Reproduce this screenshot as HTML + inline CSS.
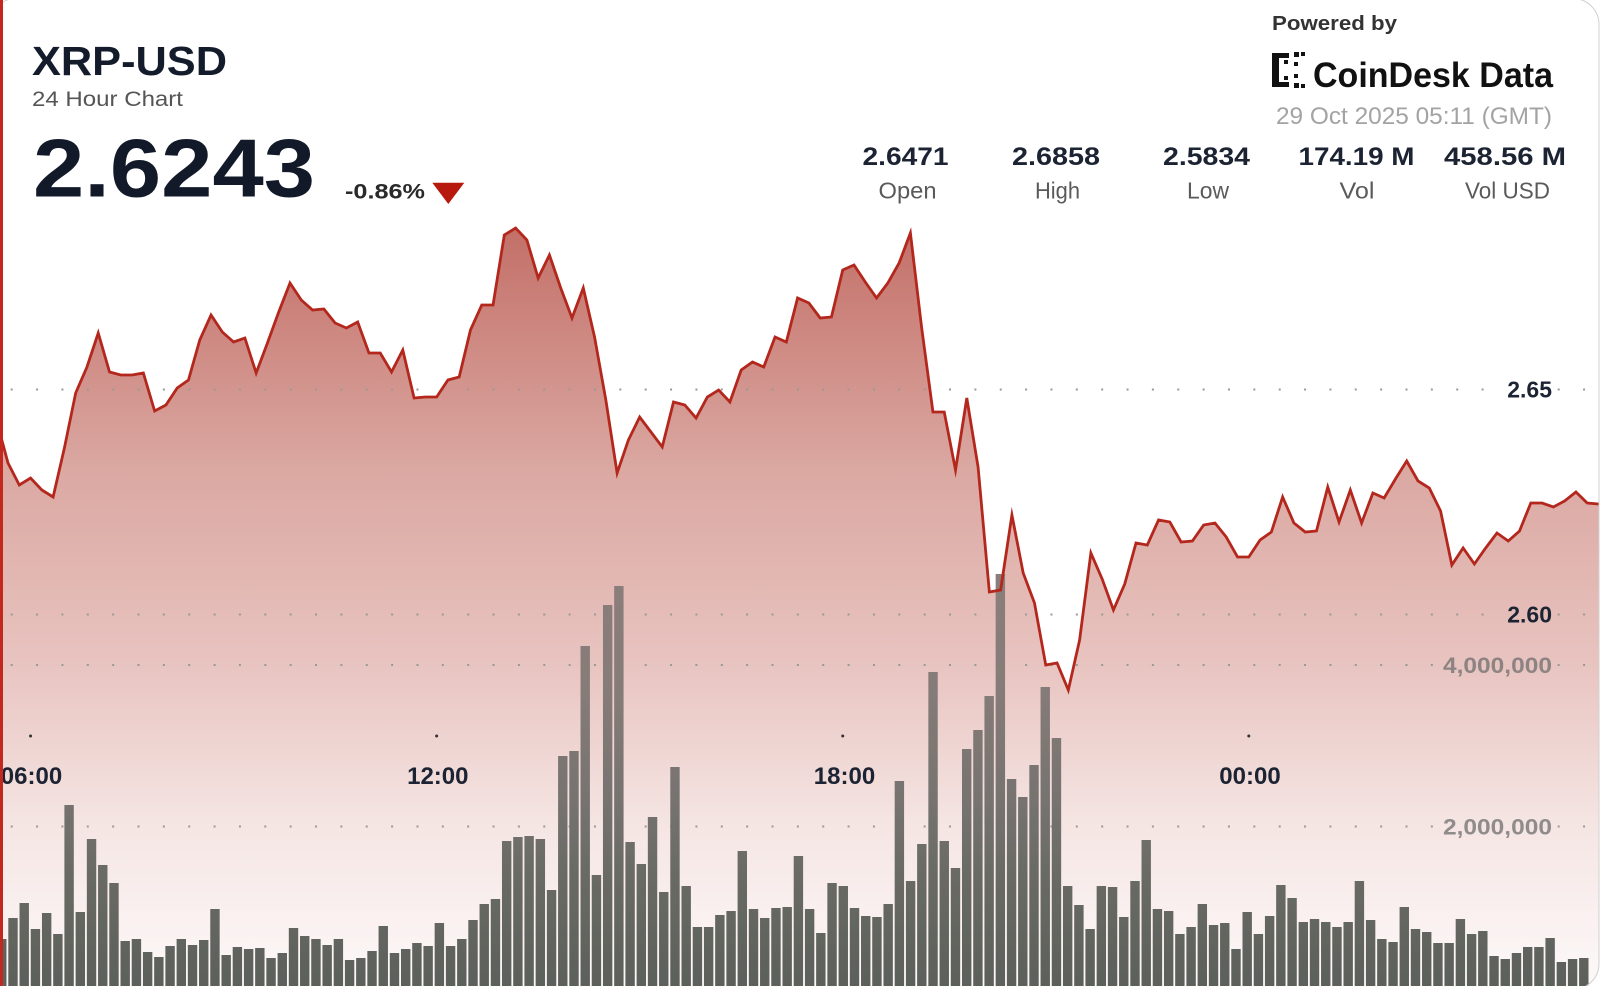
<!DOCTYPE html>
<html>
<head>
<meta charset="utf-8">
<style>
  html, body { margin: 0; padding: 0; background: #ffffff; }
  body { width: 1600px; height: 986px; overflow: hidden; }
  svg { display: block; }
  text { font-family: "Liberation Sans", Arial, sans-serif; }
</style>
</head>
<body>
<svg width="1600" height="986" viewBox="0 0 1600 986" xmlns="http://www.w3.org/2000/svg">
  <defs>
    <clipPath id="card">
      <rect x="-10" y="-1.5" width="1609.5" height="991.5" rx="26" ry="26"/>
    </clipPath>
    <linearGradient id="areaGrad" gradientUnits="userSpaceOnUse" x1="0" y1="222" x2="0" y2="990">
      <stop offset="0" stop-color="rgb(194,110,102)"/>
      <stop offset="0.323" stop-color="rgb(219,168,162)"/>
      <stop offset="0.57" stop-color="rgb(232,195,191)"/>
      <stop offset="0.79" stop-color="rgb(245,230,228)"/>
      <stop offset="1" stop-color="rgb(253,249,249)"/>
    </linearGradient>
    <linearGradient id="barGrad" gradientUnits="userSpaceOnUse" x1="0" y1="570" x2="0" y2="990">
      <stop offset="0" stop-color="#8b7e7a"/>
      <stop offset="0.3" stop-color="#857b78"/>
      <stop offset="0.55" stop-color="#767370"/>
      <stop offset="0.75" stop-color="#686963"/>
      <stop offset="1" stop-color="#5c605a"/>
    </linearGradient>
  </defs>

  <g clip-path="url(#card)">
    <rect x="0" y="0" width="1600" height="986" fill="#ffffff"/>

    <!-- price area fill -->
    <path fill="url(#areaGrad)" d="M-3.28,421 L8,463 19.28,485 30.56,478 41.84,490 53.12,497 64.4,448 75.68,393 86.96,367 98.24,333 109.52,372 120.8,375 132.08,375 143.36,373 154.64,411 165.92,405 177.2,388 188.48,380 199.76,340 211.04,315 222.32,332 233.6,342 244.88,338 256.16,373 267.44,343 278.72,312 290,283 301.28,300 312.56,310 323.84,309 335.12,323 346.4,328 357.68,322 368.96,353 380.24,353 391.52,372 402.8,350 414.08,398 425.36,397 436.64,397 447.92,380 459.2,377 470.48,330 481.76,305 493.04,305 504.32,235 515.6,228 526.88,240 538.16,278 549.44,255 560.72,288 572,318 583.28,288 594.56,337 605.84,400 617.12,473 628.4,440 639.68,417 650.96,432 662.24,447 673.52,402 684.8,405 696.08,418 707.36,397 718.64,390 729.92,402 741.2,370 752.48,362 763.76,367 775.04,337 786.32,342 797.6,298 808.88,303 820.16,318 831.44,317 842.72,270 854,265 865.28,282 876.56,298 887.84,283 899.12,263 910.4,233 921.68,328 932.96,412 944.24,412 955.52,470 966.8,398 978.08,467 989.36,592 1000.64,590 1011.92,515 1023.2,573 1034.48,603 1045.76,665 1057.04,663 1068.32,690 1079.6,640 1090.88,553 1102.16,579 1113.44,610 1124.72,584 1136,543 1147.28,545 1158.56,520 1169.84,522 1181.12,542 1192.4,541 1203.68,525 1214.96,523 1226.24,537 1237.52,557 1248.8,557 1260.08,540 1271.36,532 1282.64,497 1293.92,523 1305.2,532 1316.48,531 1327.76,487 1339.04,522 1350.32,490 1361.6,523 1372.88,493 1384.16,498 1395.44,479 1406.72,461 1418,481 1429.28,488 1440.56,511 1451.84,565 1463.12,548 1474.4,564 1485.68,548 1496.96,533 1508.24,541 1519.52,531 1530.8,503 1542.08,503 1553.36,507 1564.64,501 1575.92,492 1587.2,503 1598.48,504 1609.76,504 L1609.76,990 L-3.28,990 Z"/>

    <!-- dotted gridlines -->
    <g stroke="#999999" stroke-width="2" stroke-dasharray="2 23.36" fill="none">
      <line x1="10.7" y1="389.5" x2="1490" y2="389.5"/>
      <line x1="1557.7" y1="389.5" x2="1600" y2="389.5"/>
      <line x1="10.7" y1="614.5" x2="1490" y2="614.5"/>
      <line x1="1557.7" y1="614.5" x2="1600" y2="614.5"/>
      <line x1="10.7" y1="665" x2="1440" y2="665"/>
      <line x1="1557.7" y1="665" x2="1600" y2="665"/>
      <line x1="10.7" y1="826.5" x2="1440" y2="826.5"/>
      <line x1="1557.7" y1="826.5" x2="1600" y2="826.5"/>
    </g>

    <!-- volume bars -->
    <path fill="url(#barGrad)" d="M-2.92 939h9.4V990h-9.4z M8.3 918h9.4V990h-9.4z M19.52 903h9.4V990h-9.4z M30.74 929h9.4V990h-9.4z M41.96 913h9.4V990h-9.4z M53.18 934h9.4V990h-9.4z M64.4 805h9.4V990h-9.4z M75.62 912h9.4V990h-9.4z M86.84 839h9.4V990h-9.4z M98.06 865h9.4V990h-9.4z M109.28 883h9.4V990h-9.4z M120.5 941h9.4V990h-9.4z M131.72 939h9.4V990h-9.4z M142.94 952h9.4V990h-9.4z M154.16 957h9.4V990h-9.4z M165.38 946h9.4V990h-9.4z M176.6 939h9.4V990h-9.4z M187.82 945h9.4V990h-9.4z M199.04 940h9.4V990h-9.4z M210.26 909h9.4V990h-9.4z M221.48 955h9.4V990h-9.4z M232.7 947h9.4V990h-9.4z M243.92 949h9.4V990h-9.4z M255.14 948h9.4V990h-9.4z M266.36 958h9.4V990h-9.4z M277.58 953h9.4V990h-9.4z M288.8 928h9.4V990h-9.4z M300.02 936h9.4V990h-9.4z M311.24 939h9.4V990h-9.4z M322.46 945h9.4V990h-9.4z M333.68 939h9.4V990h-9.4z M344.9 960h9.4V990h-9.4z M356.12 958h9.4V990h-9.4z M367.34 951h9.4V990h-9.4z M378.56 926h9.4V990h-9.4z M389.78 953h9.4V990h-9.4z M401 949h9.4V990h-9.4z M412.22 943h9.4V990h-9.4z M423.44 946h9.4V990h-9.4z M434.66 923h9.4V990h-9.4z M445.88 946h9.4V990h-9.4z M457.1 939h9.4V990h-9.4z M468.32 920h9.4V990h-9.4z M479.54 904h9.4V990h-9.4z M490.76 899h9.4V990h-9.4z M501.98 841h9.4V990h-9.4z M513.2 837h9.4V990h-9.4z M524.42 836h9.4V990h-9.4z M535.64 839h9.4V990h-9.4z M546.86 890h9.4V990h-9.4z M558.08 756h9.4V990h-9.4z M569.3 751h9.4V990h-9.4z M580.52 646h9.4V990h-9.4z M591.74 875h9.4V990h-9.4z M602.96 605h9.4V990h-9.4z M614.18 586h9.4V990h-9.4z M625.4 842h9.4V990h-9.4z M636.62 864h9.4V990h-9.4z M647.84 817h9.4V990h-9.4z M659.06 892h9.4V990h-9.4z M670.28 767h9.4V990h-9.4z M681.5 886h9.4V990h-9.4z M692.72 927h9.4V990h-9.4z M703.94 927h9.4V990h-9.4z M715.16 915h9.4V990h-9.4z M726.38 911h9.4V990h-9.4z M737.6 851h9.4V990h-9.4z M748.82 909h9.4V990h-9.4z M760.04 918h9.4V990h-9.4z M771.26 908h9.4V990h-9.4z M782.48 907h9.4V990h-9.4z M793.7 856h9.4V990h-9.4z M804.92 909h9.4V990h-9.4z M816.14 933h9.4V990h-9.4z M827.36 883h9.4V990h-9.4z M838.58 886h9.4V990h-9.4z M849.8 908h9.4V990h-9.4z M861.02 916h9.4V990h-9.4z M872.24 917h9.4V990h-9.4z M883.46 904h9.4V990h-9.4z M894.68 781h9.4V990h-9.4z M905.9 881h9.4V990h-9.4z M917.12 844h9.4V990h-9.4z M928.34 672h9.4V990h-9.4z M939.56 841h9.4V990h-9.4z M950.78 868h9.4V990h-9.4z M962 749h9.4V990h-9.4z M973.22 730h9.4V990h-9.4z M984.44 696h9.4V990h-9.4z M995.66 574h9.4V990h-9.4z M1006.88 779h9.4V990h-9.4z M1018.1 797h9.4V990h-9.4z M1029.32 765h9.4V990h-9.4z M1040.54 687h9.4V990h-9.4z M1051.76 738h9.4V990h-9.4z M1062.98 886h9.4V990h-9.4z M1074.2 905h9.4V990h-9.4z M1085.42 929h9.4V990h-9.4z M1096.64 886h9.4V990h-9.4z M1107.86 887h9.4V990h-9.4z M1119.08 917h9.4V990h-9.4z M1130.3 881h9.4V990h-9.4z M1141.52 840h9.4V990h-9.4z M1152.74 909h9.4V990h-9.4z M1163.96 911h9.4V990h-9.4z M1175.18 934h9.4V990h-9.4z M1186.4 927h9.4V990h-9.4z M1197.62 904h9.4V990h-9.4z M1208.84 925h9.4V990h-9.4z M1220.06 923h9.4V990h-9.4z M1231.28 949h9.4V990h-9.4z M1242.5 912h9.4V990h-9.4z M1253.72 934h9.4V990h-9.4z M1264.94 916h9.4V990h-9.4z M1276.16 885h9.4V990h-9.4z M1287.38 898h9.4V990h-9.4z M1298.6 922h9.4V990h-9.4z M1309.82 919h9.4V990h-9.4z M1321.04 922h9.4V990h-9.4z M1332.26 927h9.4V990h-9.4z M1343.48 922h9.4V990h-9.4z M1354.7 881h9.4V990h-9.4z M1365.92 920h9.4V990h-9.4z M1377.14 939h9.4V990h-9.4z M1388.36 942h9.4V990h-9.4z M1399.58 907h9.4V990h-9.4z M1410.8 929h9.4V990h-9.4z M1422.02 932h9.4V990h-9.4z M1433.24 943h9.4V990h-9.4z M1444.46 943h9.4V990h-9.4z M1455.68 919h9.4V990h-9.4z M1466.9 934h9.4V990h-9.4z M1478.12 931h9.4V990h-9.4z M1489.34 956h9.4V990h-9.4z M1500.56 959h9.4V990h-9.4z M1511.78 953h9.4V990h-9.4z M1523 947h9.4V990h-9.4z M1534.22 947h9.4V990h-9.4z M1545.44 938h9.4V990h-9.4z M1556.66 962h9.4V990h-9.4z M1567.88 959h9.4V990h-9.4z M1579.1 958h9.4V990h-9.4z"/>

    <!-- price line -->
    <polyline fill="none" stroke="#b3271d" stroke-width="2.8" stroke-linejoin="miter" stroke-miterlimit="6" points="-3.28,421 8,463 19.28,485 30.56,478 41.84,490 53.12,497 64.4,448 75.68,393 86.96,367 98.24,333 109.52,372 120.8,375 132.08,375 143.36,373 154.64,411 165.92,405 177.2,388 188.48,380 199.76,340 211.04,315 222.32,332 233.6,342 244.88,338 256.16,373 267.44,343 278.72,312 290,283 301.28,300 312.56,310 323.84,309 335.12,323 346.4,328 357.68,322 368.96,353 380.24,353 391.52,372 402.8,350 414.08,398 425.36,397 436.64,397 447.92,380 459.2,377 470.48,330 481.76,305 493.04,305 504.32,235 515.6,228 526.88,240 538.16,278 549.44,255 560.72,288 572,318 583.28,288 594.56,337 605.84,400 617.12,473 628.4,440 639.68,417 650.96,432 662.24,447 673.52,402 684.8,405 696.08,418 707.36,397 718.64,390 729.92,402 741.2,370 752.48,362 763.76,367 775.04,337 786.32,342 797.6,298 808.88,303 820.16,318 831.44,317 842.72,270 854,265 865.28,282 876.56,298 887.84,283 899.12,263 910.4,233 921.68,328 932.96,412 944.24,412 955.52,470 966.8,398 978.08,467 989.36,592 1000.64,590 1011.92,515 1023.2,573 1034.48,603 1045.76,665 1057.04,663 1068.32,690 1079.6,640 1090.88,553 1102.16,579 1113.44,610 1124.72,584 1136,543 1147.28,545 1158.56,520 1169.84,522 1181.12,542 1192.4,541 1203.68,525 1214.96,523 1226.24,537 1237.52,557 1248.8,557 1260.08,540 1271.36,532 1282.64,497 1293.92,523 1305.2,532 1316.48,531 1327.76,487 1339.04,522 1350.32,490 1361.6,523 1372.88,493 1384.16,498 1395.44,479 1406.72,461 1418,481 1429.28,488 1440.56,511 1451.84,565 1463.12,548 1474.4,564 1485.68,548 1496.96,533 1508.24,541 1519.52,531 1530.8,503 1542.08,503 1553.36,507 1564.64,501 1575.92,492 1587.2,503 1598.48,504 1609.76,504"/>

    <!-- axis labels -->
    <text x="1552" y="397.5" font-size="23" font-weight="bold" fill="#1c2333" text-anchor="end">2.65</text>
    <text x="1552" y="622.5" font-size="23" font-weight="bold" fill="#1c2333" text-anchor="end">2.60</text>
    <text x="1552" y="673" font-size="22" font-weight="bold" fill="#6e6e6e" fill-opacity="0.75" text-anchor="end" textLength="109" lengthAdjust="spacingAndGlyphs">4,000,000</text>
    <text x="1552" y="834.5" font-size="22" font-weight="bold" fill="#6e6e6e" fill-opacity="0.75" text-anchor="end" textLength="109" lengthAdjust="spacingAndGlyphs">2,000,000</text>

    <!-- time ticks and labels -->
    <g fill="#333333">
      <circle cx="30.56" cy="736" r="1.5"/>
      <circle cx="436.64" cy="736" r="1.5"/>
      <circle cx="842.72" cy="736" r="1.5"/>
      <circle cx="1248.8" cy="736" r="1.5"/>
    </g>
    <g font-size="24" font-weight="bold" fill="#1c2333" text-anchor="middle">
      <text x="31.5" y="784">06:00</text>
      <text x="437.8" y="784">12:00</text>
      <text x="844.5" y="784">18:00</text>
      <text x="1250" y="784">00:00</text>
    </g>

    <!-- header left -->
    <text x="32" y="75" font-size="41" font-weight="bold" fill="#141c2b" textLength="195" lengthAdjust="spacingAndGlyphs">XRP-USD</text>
    <text x="32" y="106" font-size="21" fill="#555555" textLength="151" lengthAdjust="spacingAndGlyphs">24 Hour Chart</text>
    <text x="33" y="196.7" font-size="83" font-weight="bold" fill="#121a2a" textLength="282" lengthAdjust="spacingAndGlyphs">2.6243</text>
    <text x="345" y="198.5" font-size="21" font-weight="bold" fill="#2a2a2a" textLength="80" lengthAdjust="spacingAndGlyphs">-0.86%</text>
    <polygon points="432.3,182.7 464.3,182.7 448.3,204" fill="#b8190f"/>

    <!-- header right -->
    <text x="1272" y="30" font-size="20" font-weight="bold" fill="#333333" textLength="125" lengthAdjust="spacingAndGlyphs">Powered by</text>
    <g fill="#111111">
      <rect x="1272" y="53" width="7" height="34"/>
      <rect x="1272" y="53" width="17" height="5"/>
      <rect x="1272" y="82" width="17" height="5"/>
      <rect x="1284" y="60" width="4" height="4"/>
      <rect x="1284" y="76" width="4" height="4"/>
      <rect x="1294" y="52" width="5" height="5"/>
      <rect x="1294" y="62" width="4" height="4"/>
      <rect x="1294" y="74" width="4" height="4"/>
      <rect x="1294" y="83" width="5" height="5"/>
      <rect x="1301" y="52" width="4" height="4"/>
      <rect x="1301" y="84" width="4" height="4"/>
    </g>
    <text x="1313" y="87" font-size="35" font-weight="bold" fill="#111111" textLength="240" lengthAdjust="spacingAndGlyphs">CoinDesk Data</text>
    <text x="1276" y="124" font-size="24" fill="#a3a3a3" textLength="276" lengthAdjust="spacingAndGlyphs">29 Oct 2025 05:11 (GMT)</text>

    <!-- stats -->
    <g font-size="25" font-weight="bold" fill="#1c2333" text-anchor="middle">
      <text x="905.5" y="165" textLength="86" lengthAdjust="spacingAndGlyphs">2.6471</text>
      <text x="1056" y="165" textLength="88" lengthAdjust="spacingAndGlyphs">2.6858</text>
      <text x="1206.5" y="165" textLength="87" lengthAdjust="spacingAndGlyphs">2.5834</text>
      <text x="1356.5" y="165" textLength="116" lengthAdjust="spacingAndGlyphs">174.19 M</text>
      <text x="1505" y="165" textLength="122" lengthAdjust="spacingAndGlyphs">458.56 M</text>
    </g>
    <g font-size="23" fill="#5a5a5a" text-anchor="middle">
      <text x="907.5" y="198.5" textLength="58" lengthAdjust="spacingAndGlyphs">Open</text>
      <text x="1057.5" y="198.5" textLength="45" lengthAdjust="spacingAndGlyphs">High</text>
      <text x="1208" y="198.5" textLength="42" lengthAdjust="spacingAndGlyphs">Low</text>
      <text x="1357" y="198.5" textLength="35" lengthAdjust="spacingAndGlyphs">Vol</text>
      <text x="1507.5" y="198.5" textLength="85" lengthAdjust="spacingAndGlyphs">Vol USD</text>
    </g>
  </g>

  <!-- card border and red left accent -->
  <rect x="-10" y="-1.5" width="1609" height="991" rx="26" ry="26" fill="none" stroke="#d0d0d0" stroke-width="1"/>
  <rect x="0" y="0" width="3" height="986" fill="#c3281e"/>
</svg>
</body>
</html>
